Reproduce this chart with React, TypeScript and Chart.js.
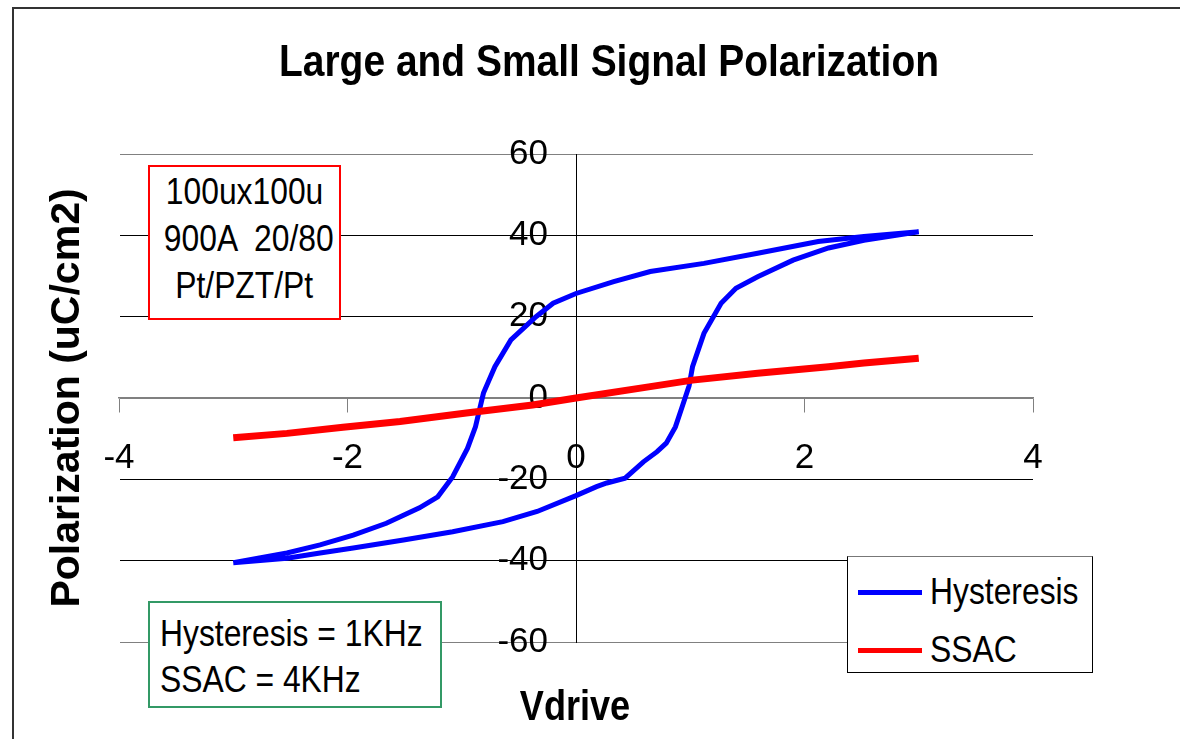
import React, { useEffect, useRef } from "react";
import { Chart, registerables } from "chart.js";

Chart.register(...registerables);

const hystV = [
  -3.0, -2.53, -2.24, -1.95, -1.51, -1.08, -0.64, -0.34, 0.0, 0.18, 0.27, 0.43, 0.59, 0.71, 0.79, 0.87, 0.93, 0.99,
  1.02, 1.12, 1.27, 1.4, 1.59, 1.9, 2.21, 2.52, 3.0,
  2.52, 2.12, 1.59, 1.12, 0.65, 0.33, 0.0, -0.2, -0.35, -0.57, -0.71, -0.81, -0.88, -0.95, -1.08, -1.21, -1.37,
  -1.66, -1.95, -2.24, -2.53, -3.0,
];
const hystP = [
  -40.5, -39.4, -38.1, -36.9, -34.9, -32.9, -30.4, -27.9, -24.0, -21.8, -20.9, -19.7, -15.7, -13.2, -11.1, -7.1, -2.1, 3.0,
  7.7, 15.9, 23.3, 27.0, 29.8, 33.9, 36.9, 38.8, 40.9,
  39.7, 38.5, 35.6, 33.1, 31.1, 28.6, 25.7, 23.3, 20.0, 14.3, 7.7, 1.2, -7.1, -12.4, -19.4, -24.3, -27.0,
  -30.8, -33.7, -36.1, -38.1, -40.5,
];
const ssacV = [-3.0, -2.53, -2.04, -1.54, -0.96, -0.38, 0.0, 0.65, 1.02, 1.59, 2.21, 2.52, 3.0];
const ssacP = [-9.8, -8.7, -7.2, -5.8, -3.7, -1.7, 0.0, 2.8, 4.4, 6.1, 7.7, 8.6, 9.8];

const seriesNames = ["Hysteresis", "SSAC"];
const titleText = "Large and Small Signal Polarization";
const xTitle = "Vdrive";
const yTitle = "Polarization (uC/cm2)";
const xTicks = [-4, -2, 0, 2, 4];
const yTicks = [-60, -40, -20, 0, 20, 40, 60];
const noteLines = ["100ux100u", "900A  20/80", "Pt/PZT/Pt"];
const freqLines = ["Hysteresis = 1KHz", "SSAC = 4KHz"];

const SANS = "'Liberation Sans', Arial, sans-serif";
const SQUEEZE = 0.86;

const decor = {
  id: "decor",
  afterLayout(chart: any) {
    const xs = chart.scales.x;
    const ys = chart.scales.y;
    const x0 = xs.getPixelForValue(0);
    ys.left = x0 - 150;
    ys.right = x0;
  },
  beforeDraw(chart: any) {
    const ctx = chart.ctx;
    ctx.save();
    ctx.fillStyle = "#ffffff";
    ctx.fillRect(0, 0, chart.width, chart.height);
    ctx.strokeStyle = "#333333";
    ctx.lineWidth = 2;
    ctx.beginPath();
    ctx.moveTo(13, chart.height + 5);
    ctx.lineTo(13, 8);
    ctx.lineTo(chart.width + 5, 8);
    ctx.stroke();
    ctx.restore();
  },
  afterDraw(chart: any) {
    const ctx = chart.ctx;
    const a = chart.chartArea;
    ctx.save();
    ctx.fillStyle = "#000";
    ctx.font = "bold 41px " + SANS;
    ctx.textAlign = "center";
    ctx.textBaseline = "middle";
    ctx.translate(68, (a.top + a.bottom) / 2);
    ctx.rotate(-Math.PI / 2);
    ctx.fillText(yTitle, 0, 0);
    ctx.restore();

    ctx.save();
    ctx.fillStyle = "#000";
    ctx.font = "bold 42px " + SANS;
    ctx.textAlign = "center";
    ctx.textBaseline = "middle";
    ctx.translate(575, 708);
    ctx.scale(SQUEEZE, 1);
    ctx.fillText(xTitle, 0, 0);
    ctx.restore();

    ctx.save();
    ctx.fillStyle = "#000";
    ctx.font = "bold 44px " + SANS;
    ctx.textAlign = "center";
    ctx.textBaseline = "middle";
    ctx.translate(609, 64);
    ctx.scale(0.885, 1);
    ctx.fillText(titleText, 0, 0);
    ctx.restore();
  },
};

export default function App() {
  const ref = useRef<HTMLCanvasElement>(null);
  useEffect(() => {
    document.body.style.margin = "0";
    document.body.style.overflow = "hidden";
    const chart = new Chart(ref.current!, {
      type: "scatter",
      data: {
        datasets: [
          {
            label: seriesNames[0],
            data: hystV.map((v, i) => ({ x: v, y: hystP[i] })),
            showLine: true,
            borderColor: "#0000ff",
            backgroundColor: "#0000ff",
            borderWidth: 5,
            pointRadius: 0,
            tension: 0,
            order: 1,
          },
          {
            label: seriesNames[1],
            data: ssacV.map((v, i) => ({ x: v, y: ssacP[i] })),
            showLine: true,
            borderColor: "#ff0000",
            backgroundColor: "#ff0000",
            borderWidth: 7,
            pointRadius: 0,
            tension: 0,
            order: 0,
          },
        ],
      },
      options: {
        responsive: false,
        animation: false,
        devicePixelRatio: 1,
        layout: { padding: { left: 119, right: 147, top: 154, bottom: 97 } },
        plugins: {
          legend: { display: false },
          tooltip: { enabled: false },
          title: { display: false },
        },
        scales: {
          x: {
            type: "linear",
            min: -4,
            max: 4,
            position: { y: 0 } as any,
            afterBuildTicks: (s: any) => {
              s.ticks = xTicks.map((v) => ({ value: v }));
            },
            grid: { drawOnChartArea: false, color: "#808080", tickLength: 14, lineWidth: 1 },
            border: { color: "#808080", width: 1.5 },
            ticks: {
              color: "#000",
              font: { family: SANS, size: 35 },
              padding: 25,
              maxRotation: 0,
            },
          },
          y: {
            type: "linear",
            min: -60,
            max: 60,
            position: "left",
            afterFit: (s: any) => {
              s.width = 0;
            },
            afterBuildTicks: (s: any) => {
              s.ticks = yTicks.map((v) => ({ value: v }));
            },
            grid: {
              color: (c: any) =>
                c.tick && (c.tick.value === 60 || c.tick.value === -60 || c.tick.value === 0) ? "#808080" : "#000000",
              lineWidth: 1,
              tickLength: 9,
            },
            border: { color: "#000", width: 1 },
            ticks: {
              color: "#000",
              font: { family: SANS, size: 35 },
              padding: 19,
            },
          },
        },
      },
      plugins: [decor],
    });
    return () => chart.destroy();
  }, []);

  const squeeze: React.CSSProperties = {
    display: "inline-block",
    transform: `scaleX(${SQUEEZE})`,
    whiteSpace: "pre",
  };
  const boxText: React.CSSProperties = {
    fontFamily: SANS,
    fontSize: 37,
    color: "#000",
  };

  return (
    <div style={{ position: "fixed", left: 0, top: 0, width: 1180, height: 739, background: "#fff" }}>
      <canvas ref={ref} width={1180} height={739} style={{ position: "absolute", left: 0, top: 0, width: 1180, height: 739 }} />
      <div
        style={{
          position: "absolute",
          left: 148,
          top: 165,
          width: 193,
          height: 155,
          boxSizing: "border-box",
          border: "2px solid #ff0000",
          background: "#fff",
          ...boxText,
        }}
      >
        {noteLines.map((t, i) => (
          <div
            key={t}
            style={{ position: "absolute", left: 0, right: 0, top: 2 + i * 47, height: 46, lineHeight: "46px", textAlign: "center" }}
          >
            <span style={{ ...squeeze, transformOrigin: "center" }}>{t}</span>
          </div>
        ))}
      </div>
      <div
        style={{
          position: "absolute",
          left: 148,
          top: 601,
          width: 294,
          height: 107,
          boxSizing: "border-box",
          border: "2px solid #339966",
          background: "#fff",
          ...boxText,
        }}
      >
        {freqLines.map((t, i) => (
          <div key={t} style={{ position: "absolute", left: 10, top: 8 + i * 46, height: 46, lineHeight: "46px" }}>
            <span style={{ ...squeeze, transformOrigin: "left center" }}>{t}</span>
          </div>
        ))}
      </div>
      <div
        style={{
          position: "absolute",
          left: 847,
          top: 556,
          width: 246,
          height: 117,
          boxSizing: "border-box",
          border: "1px solid #000",
          borderTopColor: "#777",
          background: "#fff",
          ...boxText,
        }}
      >
        {seriesNames.map((t, i) => (
          <div key={t} style={{ position: "absolute", left: 10, top: i === 0 ? 10 : 68, height: 46, lineHeight: "46px", whiteSpace: "nowrap" }}>
            <span
              style={{
                display: "inline-block",
                verticalAlign: "middle",
                width: 64,
                height: 5,
                background: i === 0 ? "#0000ff" : "#ff0000",
                marginRight: 8,
              }}
            />
            <span style={{ ...squeeze, transformOrigin: "left center", verticalAlign: "middle" }}>{t}</span>
          </div>
        ))}
      </div>
    </div>
  );
}
